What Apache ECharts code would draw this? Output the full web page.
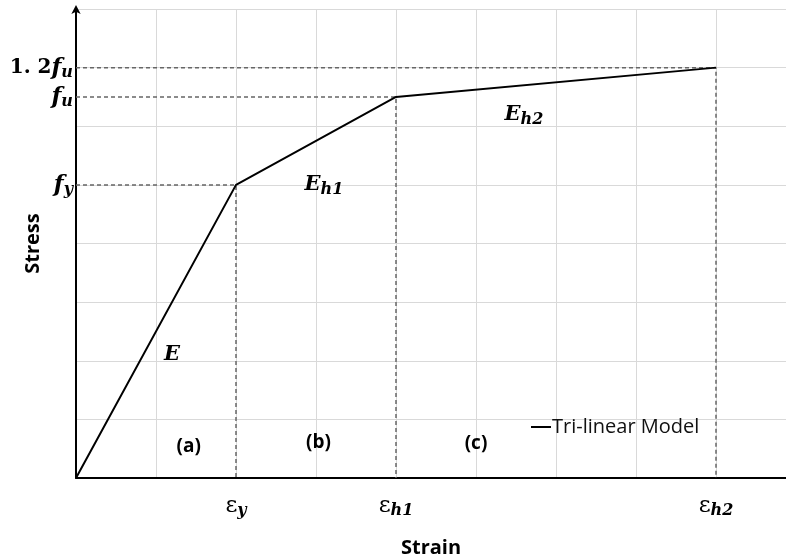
<!DOCTYPE html>
<html>
<head>
<meta charset="utf-8">
<script src="https://cdn.jsdelivr.net/npm/echarts@6/dist/echarts.min.js"></script>
<style>
  html, body { margin: 0; padding: 0; background: #fff; }
  #chart { width: 786px; height: 554px; }
</style>
</head>
<body>
<div id="chart"></div>
<script>
// tri-linear model points (strain, stress) in grid units
var modelPoints = [[0, 0], [2, 5], [4, 6.5], [8, 7]]
// guide lines from the axes to each corner point
var guideFy = [[0, 5], [2, 5], [2, 0]]
var guideFu = [[0, 6.5], [4, 6.5], [4, 0]]
var guideFu12 = [[0, 7], [8, 7], [8, 0]]
// axis tick labels
var xTickValues = [2, 4, 8]
var xTickLabels = ['{e|ε}{s|y}', '{e|ε}{s|h1}', '{e|ε}{s|h2}']
var yTickValues = [5, 6.5, 7]
var yTickLabels = ['{f|f}{s|y}', '{f|f}{s|u}', '{n|1. 2}{f|f}{s|u}']
// annotations: [x, y, text]
var notes = [
  [1.2, 2.1, '{m|E}'],
  [3.1, 5.0, '{m|E}{ms|h1}'],
  [5.6, 6.2, '{m|E}{ms|h2}'],
  [1.41, 0.53, '{p|(a)}'],
  [3.03, 0.6, '{p|(b)}'],
  [5.0, 0.58, '{p|(c)}']
]

var mathFont = '"DejaVu Serif", "Liberation Serif", serif'
var sansFont = '"Open Sans", "Liberation Sans", sans-serif'

var chart = echarts.init(document.getElementById('chart'))

function guide (data) {
  return {
    type: 'line',
    data: data,
    symbol: 'none',
    silent: true,
    lineStyle: { color: '#666', width: 1.5, type: [4, 3] },
    z: 1
  }
}

var option = {
  animation: false,
  grid: { left: 76, right: 0, top: 9, bottom: 76, outerBoundsMode: 'none', containLabel: false },
  legend: {
    data: ['Tri-linear Model'],
    left: 526,
    top: 412,
    icon: 'rect',
    itemWidth: 20,
    itemHeight: 2,
    textStyle: { fontFamily: sansFont, fontSize: 20, color: '#111', padding: [0, 0, 0, -4] }
  },
  xAxis: {
    type: 'value',
    min: 0,
    max: 8.875,
    interval: 1,
    name: 'Strain',
    nameLocation: 'middle',
    nameGap: 60,
    nameMoveOverlap: false,
    nameTextStyle: { fontFamily: sansFont, fontSize: 20, fontWeight: 'bold', color: '#000' },
    axisLine: { lineStyle: { color: '#000', width: 2 } },
    axisTick: { show: false },
    splitLine: { show: true, lineStyle: { color: '#d9d9d9', width: 1 } },
    axisLabel: {
      customValues: xTickValues,
      margin: 15,
      formatter: function (v) {
        return xTickLabels[xTickValues.indexOf(v)]
      },
      rich: {
        e: { fontFamily: mathFont, fontSize: 23, color: '#000' },
        s: { fontFamily: mathFont, fontSize: 16, fontStyle: 'italic', fontWeight: 'bold', color: '#000', padding: [10, 0, 0, 0] }
      }
    }
  },
  yAxis: {
    type: 'value',
    min: 0,
    max: 8,
    interval: 1,
    name: 'Stress',
    nameLocation: 'middle',
    nameGap: 33,
    nameMoveOverlap: false,
    nameTextStyle: { fontFamily: sansFont, fontSize: 20, fontWeight: 'bold', color: '#000' },
    axisLine: { show: true, symbol: ['none', 'arrow'], symbolSize: [7, 9], symbolOffset: [0, 4], lineStyle: { color: '#000', width: 2 } },
    axisTick: { show: false },
    splitLine: { show: true, lineStyle: { color: '#d9d9d9', width: 1 } },
    axisLabel: {
      customValues: yTickValues,
      margin: 3,
      formatter: function (v) {
        return yTickLabels[yTickValues.indexOf(v)]
      },
      rich: {
        f: { fontFamily: mathFont, fontSize: 23, fontStyle: 'italic', fontWeight: 'bold', color: '#000' },
        n: { fontFamily: mathFont, fontSize: 20, fontWeight: 'bold', color: '#000' },
        s: { fontFamily: mathFont, fontSize: 16, fontStyle: 'italic', fontWeight: 'bold', color: '#000', padding: [10, 0, 0, 0] }
      }
    }
  },
  series: [
    guide(guideFy),
    guide(guideFu),
    guide(guideFu12),
    {
      name: 'Tri-linear Model',
      type: 'line',
      data: modelPoints,
      symbol: 'none',
      lineStyle: { color: '#000', width: 2 },
      itemStyle: { color: '#000' },
      z: 3
    },
    {
      type: 'scatter',
      data: notes,
      symbolSize: 0,
      silent: true,
      itemStyle: { opacity: 1 },
      label: {
        show: true,
        position: 'inside',
        color: '#000',
        formatter: function (p) { return p.data[2] },
        rich: {
          m: { fontFamily: mathFont, fontSize: 21, fontStyle: 'italic', fontWeight: 'bold', color: '#000' },
          ms: { fontFamily: mathFont, fontSize: 16, fontStyle: 'italic', fontWeight: 'bold', color: '#000', padding: [10, 0, 0, 0] },
          p: { fontFamily: sansFont, fontSize: 19, fontWeight: 'bold', color: '#000' }
        }
      }
    }
  ]
}

chart.setOption(option)
</script>
</body>
</html>
